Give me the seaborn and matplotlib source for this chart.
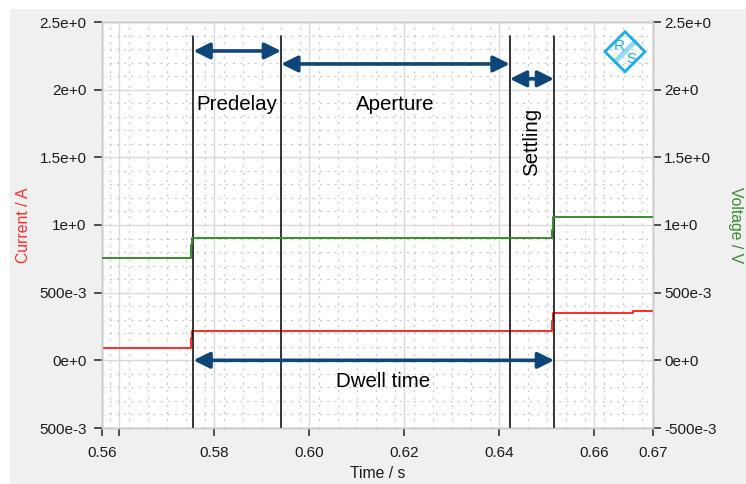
import matplotlib
matplotlib.use("Agg")
import matplotlib.pyplot as plt
from matplotlib.patches import Rectangle, Polygon
from matplotlib.ticker import FixedLocator, MultipleLocator
import seaborn as sns
import numpy as np
import pandas as pd

# ---------------- data ----------------
time_s = [0.5564, 0.5751, 0.5754, 0.6511, 0.6514, 0.6682, 0.6724]
current_a = [0.093, 0.167, 0.220, 0.290, 0.348, 0.361, 0.361]
voltage_v = [0.757, 0.850, 0.906, 0.962, 1.057, 1.057, 1.057]

marker_times = [0.57564, 0.59411, 0.64225, 0.65158]   # dwell start, aperture start, aperture end, dwell end
phase_labels = ["Predelay", "Aperture", "Settling"]
phase_arrow_y = [2.286, 2.19, 2.08]
dwell_label = "Dwell time"

x_limits = [0.5564, 0.6724]
x_ticks = [0.5564, 0.56, 0.58, 0.60, 0.62, 0.64, 0.66, 0.6724]
x_tick_labels = ["0.56", "", "0.58", "0.60", "0.62", "0.64", "0.66", "0.67"]
y_ticks = [-0.5, 0.0, 0.5, 1.0, 1.5, 2.0, 2.5]
y_left_labels = ["500e-3", "0e+0", "500e-3", "1e+0", "1.5e+0", "2e+0", "2.5e+0"]
y_right_labels = ["-500e-3", "0e+0", "500e-3", "1e+0", "1.5e+0", "2e+0", "2.5e+0"]

df = pd.DataFrame({"t": time_s, "I": current_a, "V": voltage_v})

# ---------------- style ----------------
sns.set_style("white")
plt.rcParams["font.family"] = ["Liberation Sans", "DejaVu Sans"]

W, H = 746, 484
fig = plt.figure(figsize=(W / 100, H / 100), dpi=100)
fig.patch.set_facecolor("white")
fig.add_artist(Rectangle((10 / W, 0), 1 - 10 / W, (H - 9) / H, transform=fig.transFigure,
                         facecolor="#f0f0f0", edgecolor="none", zorder=0))

ax = fig.add_axes([102 / W, (H - 428) / H, (653 - 102) / W, (428 - 22) / H])
ax.set_facecolor("white")
ax2 = ax.twinx()

RED = "#ff2b2b"
GREEN = "#3a8a30"
NAVY = "#0e4679"
TXT = "#1c1c1c"

sns.lineplot(data=df, x="t", y="I", ax=ax, color=RED, lw=1.4, drawstyle="steps-post",
             sort=False, zorder=3)
sns.lineplot(data=df, x="t", y="V", ax=ax2, color=GREEN, lw=1.4, drawstyle="steps-post",
             sort=False, zorder=3)

for a in (ax, ax2):
    a.set_xlim(*x_limits)
    a.set_ylim(-0.5, 2.5)
    for s in a.spines.values():
        s.set_color("#c8c8c8")
        s.set_linewidth(1.0)

# grid
ax.set_axisbelow(True)
ax.xaxis.set_major_locator(FixedLocator(x_ticks))
ax.set_xticklabels(x_tick_labels)
ax.xaxis.set_minor_locator(FixedLocator(list(np.arange(0.558, 0.6724, 0.004))))
ax.set_yticks(y_ticks)
ax.set_yticklabels(y_left_labels)
ax.yaxis.set_minor_locator(MultipleLocator(0.1))
ax.grid(which="major", color="#d9d9d9", lw=1.0, ls="-")
ax.grid(which="minor", color="#c8c8c8", lw=0.9, ls=(0, (1.6, 4.2)))
ax2.set_yticks(y_ticks)
ax2.set_yticklabels(y_right_labels)
ax2.grid(False)

ax.tick_params(axis="both", which="major", direction="out", length=6, width=1.2,
               color="#333333", labelsize=11, labelcolor=TXT, pad=5,
               left=True, bottom=True)
ax.tick_params(axis="x", which="major", pad=7)
ax.tick_params(axis="both", which="minor", length=0)
ax2.tick_params(axis="y", which="major", direction="out", length=6, width=1.2,
                color="#333333", labelsize=11, labelcolor=TXT, pad=2, right=True)
ax2.tick_params(axis="y", which="minor", length=0)

ax.set_xlabel("Time / s", fontsize=11.3, color=TXT, labelpad=4)
ax.set_ylabel("Current / A", fontsize=11.3, color=RED, labelpad=6)
ax2.set_ylabel("Voltage / V", fontsize=11.3, color=GREEN, rotation=270, labelpad=19)

# vertical marker lines
for t in marker_times:
    ax.plot([t, t], [-0.5, 2.397], color="black", lw=1.1, zorder=4)

# arrows
def darrow(x0, x1, y):
    ax.annotate("", xy=(x1, y), xytext=(x0, y), xycoords="data",
                arrowprops=dict(arrowstyle="<|-|>,head_length=0.85,head_width=0.42",
                                color=NAVY, lw=2.6, shrinkA=0, shrinkB=0,
                                mutation_scale=11.5), zorder=5)

spans = [(marker_times[0], marker_times[1]), (marker_times[1], marker_times[2]),
         (marker_times[2], marker_times[3])]
for (a0, a1), y in zip(spans, phase_arrow_y):
    darrow(a0, a1, y)
darrow(marker_times[0], marker_times[3], 0.0)

ax.text((spans[0][0] + spans[0][1]) / 2, 1.887, phase_labels[0], fontsize=14.8,
        ha="center", va="center", color="black", zorder=6)
ax.text((spans[1][0] + spans[1][1]) / 2, 1.887, phase_labels[1], fontsize=14.8,
        ha="center", va="center", color="black", zorder=6)
ax.text((spans[2][0] + spans[2][1]) / 2, 1.613, phase_labels[2], fontsize=14.8,
        ha="center", va="center", rotation=90, color="black", zorder=6)
ax.text(0.6156, -0.16, dwell_label, fontsize=14.8, ha="center", va="center",
        color="black", zorder=6)

# R&S logo (decoration)
LOGO = "#1aaee6"
cx, cy, r = 625 / W, 1 - 51.7 / H, 20
dx, dy = r / W, r / H
fig.add_artist(Polygon([(cx - dx, cy), (cx, cy + dy), (cx + dx, cy), (cx, cy - dy)],
                       closed=True, transform=fig.transFigure, fill=False,
                       edgecolor=LOGO, lw=2.0, zorder=10))
fig.add_artist(plt.Line2D([cx - 0.5 * dx, cx + 0.5 * dx], [cy - 0.5 * dy, cy + 0.5 * dy],
                          transform=fig.transFigure, color=LOGO, lw=3.5, alpha=0.45, zorder=10))
fig.text(cx - 0.30 * dx, cy + 0.30 * dy, "R", transform=fig.transFigure, color=LOGO,
         fontsize=11, ha="center", va="center", zorder=11)
fig.text(cx + 0.32 * dx, cy - 0.38 * dy, "S", transform=fig.transFigure, color=LOGO,
         fontsize=11, ha="center", va="center", zorder=11)

fig.savefig("out.png", dpi=100)
